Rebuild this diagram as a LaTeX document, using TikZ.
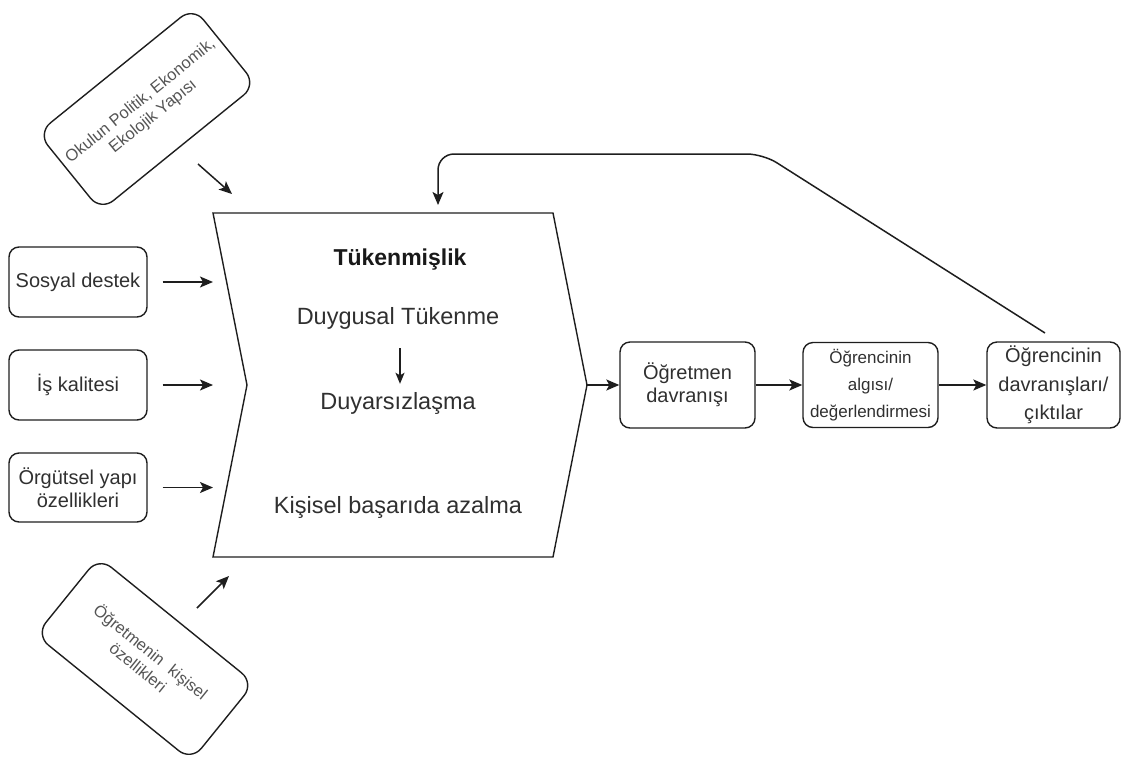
\documentclass[tikz,border=0pt]{standalone}
\usepackage{fontspec}
\setmainfont{Liberation Sans}
\usetikzlibrary{arrows.meta}
\definecolor{linec}{HTML}{1E1E1E}
\definecolor{txtc}{HTML}{303030}
\definecolor{softtxt}{HTML}{555555}
\begin{document}
\begin{tikzpicture}[x=1pt,y=-1pt,
  box/.style={draw=linec, line width=1.4pt, rounded corners=10pt, align=center,
              inner sep=2pt, text=txtc},
  tiltbox/.style={box, rounded corners=16pt, minimum width=200pt, minimum height=100pt,
              text=softtxt, font=\fontsize{16.5}{20}\selectfont},
  arr/.style={draw=linec, line width=1.5pt, -{Stealth[length=13pt,width=11pt,inset=3pt]}},
  inner/.style={text=txtc, inner sep=2pt, font=\fontsize{23.5}{27}\selectfont}]
\useasboundingbox (0,0) rectangle (1131,758);

% influencing factors on the left
\node[box, minimum width=138pt, minimum height=70pt, font=\fontsize{20}{23}\selectfont]
  (sd) at (78,282) {Sosyal destek};
\node[box, minimum width=138pt, minimum height=70pt, font=\fontsize{20}{23}\selectfont]
  (ik) at (78,385) {İş kalitesi};
\node[box, minimum width=138pt, minimum height=69pt, font=\fontsize{20}{23}\selectfont]
  (oy) at (78,487.5) {Örgütsel yapı\\özellikleri};

% tilted factor boxes
\node[tiltbox, rotate=39] (oky) at (147,109) {Okulun Politik, Ekonomik,\\Ekolojik Yapısı};
\node[tiltbox, rotate=-39] (okz) at (145,659) {Öğretmenin\hspace{0.6em}kişisel\\özellikleri};

% burnout chevron
\coordinate (cTL) at (213,213);
\coordinate (cTR) at (553,213);
\coordinate (cTip) at (587,385);
\coordinate (cBR) at (553,557);
\coordinate (cBL) at (213,557);
\coordinate (cNotch) at (247,385);
\draw[draw=linec, line width=1.4pt] (cTL) -- (cTR) -- (cTip) -- (cBR) -- (cBL) -- (cNotch) -- cycle;

\node[inner, font=\bfseries\fontsize{23}{27}\selectfont, text=black!90] (tk) at (400,260) {Tükenmişlik};
\node[inner] (dt) at (398,318) {Duygusal Tükenme};
\node[inner] (dy) at (398,403) {Duyarsızlaşma};
\node[inner] (kb) at (398,507) {Kişisel başarıda azalma};
\draw[arr, line width=1.3pt, -{Stealth[length=11pt,width=9pt,inset=2.5pt]}, shorten <=17pt, shorten >=6pt]
  (dt.south -| 400,0) -- (dy.north -| 400,0);

% arrows into the chevron
\coordinate (inA) at (213,282);
\coordinate (inB) at (213,385);
\coordinate (inC) at (213,487.5);
\draw[arr] ([xshift=15pt]sd.east) -- (inA);
\draw[arr] ([xshift=15pt]ik.east) -- (inB);
\draw[arr] ([xshift=15pt]oy.east) -- (inC);
\coordinate (tA) at (198,164);
\coordinate (tB) at (232,194);
\draw[arr] (tA) -- (tB);
\coordinate (bA) at (197,608);
\coordinate (bB) at (229,576);
\draw[arr] (bA) -- (bB);

% outcome chain
\node[box, minimum width=135pt, minimum height=86pt, font=\fontsize{20}{23}\selectfont]
  (b1) at (687.5,385) {Öğretmen\\davranışı};
\node[box, minimum width=135pt, minimum height=85pt, font=\fontsize{17}{27}\selectfont]
  (b2) at (870.5,385) {Öğrencinin\\algısı/\\değerlendirmesi};
\node[box, minimum width=133pt, minimum height=86pt, font=\fontsize{20}{28.5}\selectfont]
  (b3) at (1053.5,385) {Öğrencinin\\davranışları/\\çıktılar};
\draw[arr] (cTip) -- (b1);
\draw[arr] (b1) -- (b2);
\draw[arr] (b2) -- (b3);

% feedback loop back to the chevron
\coordinate (fbS) at (1045,333);
\coordinate (fbK1) at (763,154);
\coordinate (fbK2) at (438,154);
\coordinate (fbE) at (438,205);
\draw[arr, rounded corners=16pt] (fbS) -- (fbK1) -- (fbK2) -- (fbE);
\end{tikzpicture}
\end{document}
